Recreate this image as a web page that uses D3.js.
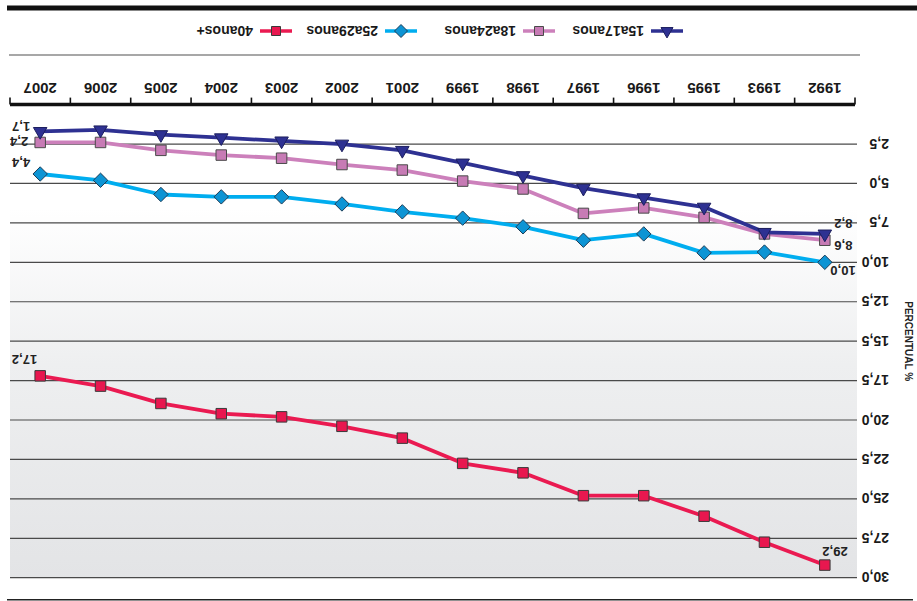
<!DOCTYPE html>
<html>
<head>
<meta charset="utf-8">
<script src="https://cdn.jsdelivr.net/npm/d3@7"></script>
<style>
  body { margin: 0; background: #ffffff; }
  svg { display: block; }
  text { font-family: "Liberation Sans", Arial, Helvetica, sans-serif; }
</style>
</head>
<body>
<svg id="chart" width="917" height="601"></svg>
<script>
// Categories (survey years)
const years = ["1992", "1993", "1995", "1996", "1997", "1998", "1999",
               "2001", "2002", "2003", "2004", "2005", "2006", "2007"];

// Series values (%)
const s15a17 = [8.2, 8.1, 6.5, 5.9, 5.3, 4.5, 3.7, 2.9, 2.5, 2.3, 2.1, 1.9, 1.6, 1.7];
const s18a24 = [8.6, 8.2, 7.15, 6.55, 6.9, 5.35, 4.85, 4.15, 3.8, 3.4, 3.2, 2.9, 2.4, 2.4];
const s25a29 = [10.0, 9.35, 9.4, 8.2, 8.6, 7.75, 7.2, 6.8, 6.3, 5.85, 5.85, 5.7, 4.8, 4.4];
const s40 = [29.2, 27.75, 26.1, 24.8, 24.8, 23.35, 22.75, 21.15, 20.4, 19.8, 19.6, 18.95, 17.85, 17.2];

// Series names
const seriesNames = ["15a17anos", "18a24anos", "25a29anos", "40anos+"];

// Value-axis ticks and their printed labels
const tickValues = [2.5, 5, 7.5, 10, 12.5, 15, 17.5, 20, 22.5, 25, 27.5, 30];
const tickLabels = ["2,5", "5,0", "7,5", "10,0", "12,5", "15,5", "17,5", "20,0", "22,5", "25,0", "27,5", "30,0"];

const axisTitle = "PERCENTUAL %";

// ---- drawing ----
const W = 917, H = 601;
const svg = d3.select("#chart");

const defs = svg.append("defs");
const grad = defs.append("linearGradient")
  .attr("id", "plotBg").attr("x1", 0).attr("y1", 0).attr("x2", 0).attr("y2", 1);
grad.append("stop").attr("offset", "0%").attr("stop-color", "#e3e4e6");
grad.append("stop").attr("offset", "45%").attr("stop-color", "#eeeff0");
grad.append("stop").attr("offset", "78%").attr("stop-color", "#ffffff");
grad.append("stop").attr("offset", "100%").attr("stop-color", "#ffffff");

// the whole figure is printed turned half a revolution
const root = svg.append("g").attr("transform", `rotate(180 ${W / 2} ${H / 2})`);

const x = d3.scaleBand().domain(years).range([62, 907]);
const y = d3.scaleLinear().domain([0, 30]).range([496.4, 23.3]);
const plotLeft = 60, plotRight = 907;

// plot background
root.append("rect")
  .attr("x", plotLeft).attr("y", y(30))
  .attr("width", plotRight - plotLeft).attr("height", y(0) - y(30))
  .attr("fill", "url(#plotBg)");

// horizontal grid lines
root.append("g").selectAll("line").data(tickValues).join("line")
  .attr("x1", plotLeft).attr("x2", plotRight)
  .attr("y1", d => y(d)).attr("y2", d => y(d))
  .attr("stroke", "#4a4a4a").attr("stroke-width", 1.2);

// value axis labels
const yAxis = root.append("g").attr("transform", "translate(28,0)")
  .call(d3.axisLeft(y).tickValues(tickValues).tickSize(0)
    .tickFormat((d, i) => tickLabels[i]));
yAxis.select(".domain").remove();
yAxis.selectAll("text")
  .attr("x", 0).attr("dy", "0.35em")
  .attr("text-anchor", "start")
  .attr("font-size", 14).attr("font-weight", "bold")
  .attr("font-family", "Liberation Sans, Arial, sans-serif")
  .attr("fill", "#1a1a1a");

// axis title
root.append("text")
  .attr("transform", `translate(12, ${y(15)}) rotate(-90)`)
  .attr("text-anchor", "middle")
  .attr("font-size", 10).attr("font-weight", "bold")
  .attr("fill", "#222")
  .text(axisTitle);

// category axis
const xAxis = root.append("g").attr("transform", `translate(0, ${y(0)})`)
  .call(d3.axisBottom(x).tickSize(0).tickPadding(0));
xAxis.select(".domain").remove();
xAxis.selectAll("text")
  .attr("y", 22).attr("dy", 0)
  .attr("font-size", 15).attr("font-weight", "bold")
  .attr("font-family", "Liberation Sans, Arial, sans-serif")
  .attr("fill", "#1a1a1a");

// band boundary ticks
const bounds = years.map(d => x(d)).concat([x(years[years.length - 1]) + x.bandwidth()]);
root.append("g").selectAll("line").data(bounds).join("line")
  .attr("x1", d => d).attr("x2", d => d)
  .attr("y1", y(0)).attr("y2", y(0) + 7)
  .attr("stroke", "#111").attr("stroke-width", 1.6);

root.append("line")
  .attr("x1", 62).attr("x2", 907).attr("y1", y(0)).attr("y2", y(0))
  .attr("stroke", "#111").attr("stroke-width", 3.5);

// marker shapes
const diamondPath = r => `M0,${-r}L${r},0L0,${r}L${-r},0Z`;
const triPath = s => {
  const h = s * Math.sqrt(3) / 2;
  return `M0,${-2 * h / 3}L${s / 2},${h / 3}L${-s / 2},${h / 3}Z`;
};
const sqPath = s => `M${-s / 2},${-s / 2}h${s}v${s}h${-s}Z`;

const series = [
  { name: seriesNames[3], values: s40, line: "#ea1a51", fill: "#e8174f", stroke: "#3a3a3a",
    shape: sqPath(10.5), legendShape: sqPath(9) },
  { name: seriesNames[2], values: s25a29, line: "#00adef", fill: "#0d94d4", stroke: "#1d3d57",
    shape: diamondPath(7.2), legendShape: diamondPath(6.5) },
  { name: seriesNames[1], values: s18a24, line: "#cc80bb", fill: "#c77bb5", stroke: "#4a4a4a",
    shape: sqPath(10.5), legendShape: sqPath(9) },
  { name: seriesNames[0], values: s15a17, line: "#2e3192", fill: "#2e3192", stroke: "#1d1f5e",
    shape: triPath(13.5), legendShape: triPath(12) }
];

const line = d3.line()
  .x((d, i) => x(years[i]) + x.bandwidth() / 2)
  .y(d => y(d));

series.forEach(s => {
  const g = root.append("g");
  g.append("path").datum(s.values)
    .attr("d", line)
    .attr("fill", "none")
    .attr("stroke", s.line).attr("stroke-width", 3.8)
    .attr("stroke-linejoin", "round");
  g.selectAll("path.mk").data(s.values).join("path")
    .attr("class", "mk")
    .attr("d", s.shape)
    .attr("transform", (d, i) => `translate(${x(years[i]) + x.bandwidth() / 2},${y(d)})`)
    .attr("fill", s.fill).attr("stroke", s.stroke).attr("stroke-width", 1);
});

// end-point value labels
const fmt = v => d3.format(".1f")(v).replace(".", ",");
const last = years.length - 1;
const endLabels = [
  { vals: s15a17, i: last, anchor: "start", dx: 10, dy: 9.5 },
  { vals: s18a24, i: last, anchor: "start", dx: 12, dy: 5 },
  { vals: s25a29, i: last, anchor: "start", dx: 10, dy: 16 },
  { vals: s40, i: last, anchor: "start", dx: 3, dy: 20.5 },
  { vals: s15a17, i: 0, anchor: "end", dx: -9.5, dy: 14.5 },
  { vals: s18a24, i: 0, anchor: "end", dx: -9.5, dy: -0.7 },
  { vals: s25a29, i: 0, anchor: "end", dx: -5.5, dy: -4 },
  { vals: s40, i: 0, anchor: "end", dx: 2.5, dy: 17.6 }
];
root.append("g").selectAll("text").data(endLabels).join("text")
  .attr("x", d => x(years[d.i]) + x.bandwidth() / 2 + d.dx)
  .attr("y", d => y(d.vals[d.i]) + d.dy)
  .attr("text-anchor", d => d.anchor)
  .attr("font-size", 13).attr("font-weight", "bold")
  .attr("fill", "#222")
  .text(d => fmt(d.vals[d.i]));

// separator rules
root.append("line").attr("x1", 57).attr("x2", 908).attr("y1", 546).attr("y2", 546)
  .attr("stroke", "#8a8a8a").attr("stroke-width", 1.6);
root.append("line").attr("x1", 0).attr("x2", 910).attr("y1", 593).attr("y2", 593)
  .attr("stroke", "#111").attr("stroke-width", 5);
root.append("line").attr("x1", 4).attr("x2", 910).attr("y1", 1.2).attr("y2", 1.2)
  .attr("stroke", "#222").attr("stroke-width", 1.5);

// legend
const legendOrder = [series[3], series[2], series[1], series[0]];
const legendX = [250, 378, 516, 641];
const legend = root.append("g").attr("transform", "translate(0,570)");
legendOrder.forEach((s, k) => {
  const lg = legend.append("g").attr("transform", `translate(${legendX[k]},0)`);
  lg.append("line").attr("x1", -16).attr("x2", 16)
    .attr("stroke", s.line).attr("stroke-width", 3.5);
  lg.append("path").attr("d", s.legendShape)
    .attr("fill", s.fill).attr("stroke", s.stroke).attr("stroke-width", 1);
  lg.append("text").attr("x", 23).attr("dy", "0.36em")
    .attr("font-size", 14).attr("font-weight", "bold").attr("fill", "#1a1a1a")
    .text(s.name);
});
</script>
</body>
</html>
